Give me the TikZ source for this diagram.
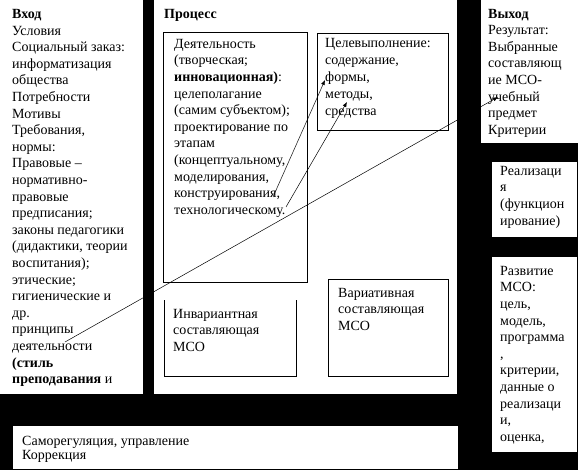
\documentclass[tikz,border=0pt]{standalone}
\usepackage{fontspec}
\setmainfont{Liberation Serif}
\usetikzlibrary{arrows.meta, positioning}

\begin{document}
\begin{tikzpicture}[x=1pt, y=-1pt,
    txt/.style={anchor=north west, inner sep=0pt, align=left, font=\fontsize{14}{16.6}\selectfont},
    panel/.style={fill=white},
    frame/.style={draw=black, line width=0.6pt, fill=white},
    link/.style={line width=0.5pt, -{Latex[length=5pt, width=4pt]}}]

    % Fondo
    \fill[black] (0,0) rectangle (578,470);
    \useasboundingbox (0,0) rectangle (578,470);

    % Paneles blancos
    \fill[panel] (0,0) rectangle (143,394);
    \fill[panel] (154,0) rectangle (457,394);
    \fill[panel] (481,0) rectangle (578,143);
    \fill[panel] (492,162) rectangle (577,237);
    \fill[panel] (492,257) rectangle (577,452);
    \fill[panel] (13,426) rectangle (458,469);

    % Cuadros interiores del proceso
    \draw[frame] (163,32) rectangle (307,282);
    \draw[frame] (317,33) rectangle (448,130);
    \draw[frame] (328,279) rectangle (448,376);
    \draw[line width=0.6pt] (164,300) -- (164,376) -- (296,376) -- (296,300);

    % Textos
    \node[txt] (vhod) at (12,9.2) {\textbf{Вход}\\Условия\\Социальный заказ:\\информатизация\\общества\\Потребности\\Мотивы\\Требования,\\нормы:\\Правовые --\\нормативно-\\правовые\\предписания;\\законы педагогики\\(дидактики, теории\\воспитания);\\этические;\\гигиенические и\\др.\\принципы\\деятельности\\\textbf{(стиль}\\\textbf{преподавания} и};
    \node[txt] (process) at (164,9.2) {\textbf{Процесс}};
    \node[txt] (deyat) at (174,39) {Деятельность\\(творческая;\\\textbf{инновационная)}:\\целеполагание\\(самим субъектом);\\проектирование по\\этапам\\(концептуальному,\\моделирования,\\конструирования,\\технологическому.};
    \node[txt, font=\fontsize{14}{17.2}\selectfont] (celevyp) at (325,37.7) {Целевыполнение:\\содержание,\\формы,\\методы,\\средства};
    \node[txt] (vyhod) at (488,8.7) {\textbf{Выход}\\Результат:\\Выбранные\\составляющ\\ие МСО-\\учебный\\предмет\\Критерии};
    \node[txt] (realiz) at (500,166) {Реализаци\\я\\(функцион\\ирование)};
    \node[txt] (razvit) at (500,266) {Развитие\\МСО:\\цель,\\модель,\\программа\\,\\критерии,\\данные о\\реализаци\\и,\\оценка,};
    \node[txt] (invar) at (173,308.7) {Инвариантная\\составляющая\\МСО};
    \node[txt] (variat) at (338,287.7) {Вариативная\\составляющая\\МСО};
    \node[txt, font=\fontsize{14}{14}\selectfont] (samoreg) at (22,435.7) {Саморегуляция, управление\\Коррекция};

    % Conexiones
    \coordinate (principy) at (65,342);
    \coordinate (uchebnyj) at (498,97);
    \coordinate (tehnol) at (273,197);
    \coordinate (formy) at (325,80);
    \coordinate (konstr) at (286,207);
    \coordinate (metody) at (347,102);
    \draw[link] (principy) -- (uchebnyj);
    \draw[link] (tehnol) -- (formy);
    \draw[link] (konstr) -- (metody);

\end{tikzpicture}
\end{document}
